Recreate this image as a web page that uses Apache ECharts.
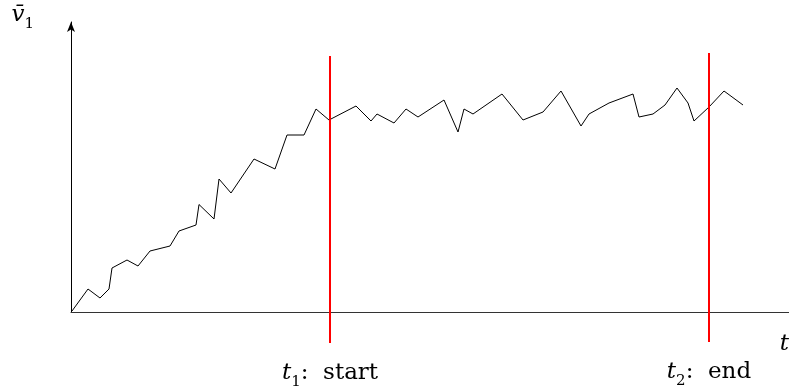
<!DOCTYPE html>
<html><head><meta charset="utf-8">
<script src="https://cdn.jsdelivr.net/npm/echarts@6/dist/echarts.min.js"></script>
<style>html,body{margin:0;padding:0;background:#fff;overflow:hidden}#c{width:789px;height:392px}</style>
</head><body><div id="c"></div>
<script>
// time (t) and averaged value (v̄1)
const tValues = [0.1,1.7,2.9,3.8,4.1,5.6,6.7,7.9,9.9,10.8,12.5,12.8,14.3,14.8,16.0,18.3,20.4,21.6,23.3,24.5,25.8,28.5,30.0,30.6,32.3,33.5,34.7,37.3,38.7,39.3,40.2,43.1,45.2,47.2,49.0,51.0,51.8,53.8,56.2,56.8,58.2,59.4,60.6,61.7,62.3,63.8,65.3,67.2];
const vValues = [0.1,2.3,1.4,2.3,4.4,5.2,4.6,6.1,6.6,8.1,8.7,10.75,9.3,13.3,11.9,15.3,14.3,17.7,17.7,20.3,19.2,20.6,19.1,19.8,18.9,20.3,19.5,21.2,18.0,20.3,19.8,21.8,19.2,20.0,22.1,18.6,19.8,20.9,21.8,19.5,19.8,20.7,22.4,20.9,19.1,20.5,22.1,20.7];
const markerTimes = [25.9, 63.8];
const markerBottoms = [-3.1, -3.0];
const markerTops = [25.6, 25.9];
const markerNames = ['1', '2'];
const markerTexts = [':  start', ':  end'];

const serif = '"DejaVu Serif", "Liberation Serif", serif';
const chart = echarts.init(document.getElementById('c'), null, {renderer: 'canvas'});

const richBase = {
  it: {fontFamily: serif, fontStyle: 'italic', fontSize: 23, color: '#000', lineHeight: 28, verticalAlign: 'bottom'},
  sub: {fontFamily: serif, fontStyle: 'normal', fontSize: 15, color: '#000', lineHeight: 28, verticalAlign: 'bottom', padding: [0, 0, -5, 0]},
  r: {fontFamily: serif, fontStyle: 'normal', fontSize: 23, color: '#000', lineHeight: 28, verticalAlign: 'bottom'}
};

const series = [{
  type: 'line',
  data: tValues.map((t, i) => [t, vValues[i]]),
  showSymbol: false,
  symbol: 'none',
  lineStyle: {color: '#000', width: 1},
  z: 3,
  clip: false,
  animation: false
}];
markerTimes.forEach((t, i) => {
  series.push({
    type: 'line',
    clip: false,
    data: [
      {value: [t, markerBottoms[i]], label: {
        show: true, position: 'bottom', distance: 14,
        formatter: '{it|t}{sub|' + markerNames[i] + '}{r|' + markerTexts[i] + '}',
        rich: richBase
      }},
      [t, markerTops[i]]
    ],
    showSymbol: true,
    symbol: 'circle',
    symbolSize: 0.01,
    itemStyle: {color: 'rgba(0,0,0,0)'},
    lineStyle: {color: '#f00', width: 2},
    z: 4,
    animation: false
  });
});

chart.setOption({
  animation: false,
  grid: {left: 71, right: 0, top: 22, bottom: 80, containLabel: false, outerBoundsMode: 'none'},
  xAxis: {
    type: 'value', min: 0, max: 71.8,
    axisLine: {show: true, onZero: false, lineStyle: {color: '#333', width: 1}},
    axisTick: {show: false}, axisLabel: {show: false}, splitLine: {show: false},
    name: '{it|t}', nameLocation: 'end', nameGap: 0,
    nameTextStyle: {align: 'right', verticalAlign: 'top', padding: [16, 0, 0, 0], rich: richBase}
  },
  yAxis: {
    type: 'value', min: 0, max: 29,
    axisLine: {show: true, onZero: false, symbol: ['none', 'arrow'], symbolSize: [6, 10], lineStyle: {color: '#000', width: 1}},
    axisTick: {show: false}, axisLabel: {show: false}, splitLine: {show: false},
    name: '{it|v\u0304}{sub|1}', nameLocation: 'end', nameGap: 0,
    nameTextStyle: {align: 'right', verticalAlign: 'bottom', padding: [0, 37, -5, 0], rich: richBase}
  },
  series: series
});
</script></body></html>
